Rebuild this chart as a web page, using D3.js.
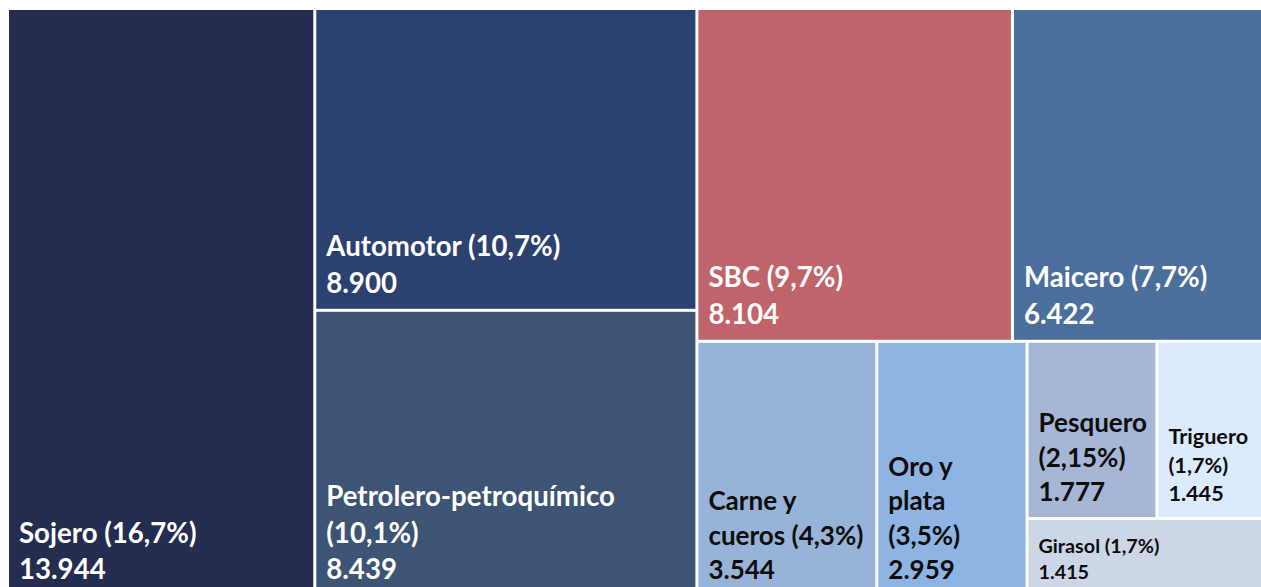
<!DOCTYPE html>
<html>
<head>
<meta charset="utf-8">
<script src="https://cdn.jsdelivr.net/npm/d3@7"></script>
<style>
    html, body { margin: 0; padding: 0; background: #fff; }
    svg { display: block; }
    text { font-family: Lato, "Noto Sans", sans-serif; font-weight: 700; }
</style>
</head>
<body>
<svg id="chart" width="1261" height="587"></svg>
<script>
// sectors, in the order they are tiled
var names = ["Sojero", "Automotor", "Petrolero-petroquímico", "SBC", "Maicero",
    "Carne y cueros", "Oro y plata", "Pesquero", "Triguero", "Girasol"];
// label text as it is wrapped in the picture
var labels = ["Sojero (16,7%)", "Automotor (10,7%)", "Petrolero-petroquímico\n(10,1%)",
    "SBC (9,7%)", "Maicero (7,7%)", "Carne y\ncueros (4,3%)", "Oro y\nplata\n(3,5%)",
    "Pesquero\n(2,15%)", "Triguero\n(1,7%)", "Girasol (1,7%)"];
var values = [13944, 8900, 8439, 8104, 6422, 3544, 2959, 1777, 1445, 1415];
// grouping of sector indexes, split alternately left-right / top-bottom
var groups = [0, [1, 2], [[3, 4], [5, 6, [[7, 8], 9]]]];

var colors = d3.scaleOrdinal()
    .domain(names)
    .range(["#242c4f", "#2b4170", "#3d5475", "#bf646b", "#4b6f9c",
        "#97b3d7", "#8eb4e3", "#a6b6d6", "#dcebfc", "#cdd6e7"]);

var es = d3.formatLocale({ decimal: ",", thousands: ".", grouping: [3], currency: ["$", ""] });
var fmt = es.format(",d");

function draw() {
    var svg = d3.select("#chart");

    var root = d3.hierarchy(groups, function (d) { return Array.isArray(d) ? d : null; })
        .sum(function (d) { return Array.isArray(d) ? 0 : values[d]; });

    d3.treemap()
        .tile(d3.treemapSliceDice)
        .size([1252, 585])
        .paddingInner(3)
        .round(false)(root);

    var g = svg.append("g").attr("transform", "translate(9,10)");

    var cell = g.selectAll(".cell")
        .data(root.leaves())
        .enter().append("g")
        .attr("class", "cell")
        .attr("transform", function (d) { return "translate(" + d.x0 + "," + d.y0 + ")"; });

    cell.append("rect")
        .attr("width", function (d) { return d.x1 - d.x0; })
        .attr("height", function (d) { return d.y1 - d.y0; })
        .style("fill", function (d) { return colors(names[d.data]); });

    // text size depends on the room in the box (Calibri-like size, Lato runs a bit wider)
    function baseSize(d) {
        var w = d.x1 - d.x0, h = d.y1 - d.y0;
        if (h < 100) return 21;
        if (w < 115) return 23;
        if (w < 200) return 27.7;
        return 29.4;
    }

    cell.each(function (d) {
        var size = baseSize(d);
        var lineH = size * 1.24;
        var lines = labels[d.data].split("\n").concat([fmt(values[d.data])]);
        var h = d.y1 - d.y0;
        var fill = d3.lab(colors(names[d.data])).l > 60 ? "#0d0d0d" : "#ffffff";

        d3.select(this).append("text")
            .style("font-size", (size * 0.94) + "px")
            .style("fill", fill)
            .selectAll("tspan")
            .data(lines)
            .enter().append("tspan")
            .attr("x", 10)
            .attr("y", function (t, i) { return h - 16 - (lines.length - 1 - i) * lineH; })
            .text(function (t) { return t; });
    });
}

draw();
</script>
</body>
</html>
